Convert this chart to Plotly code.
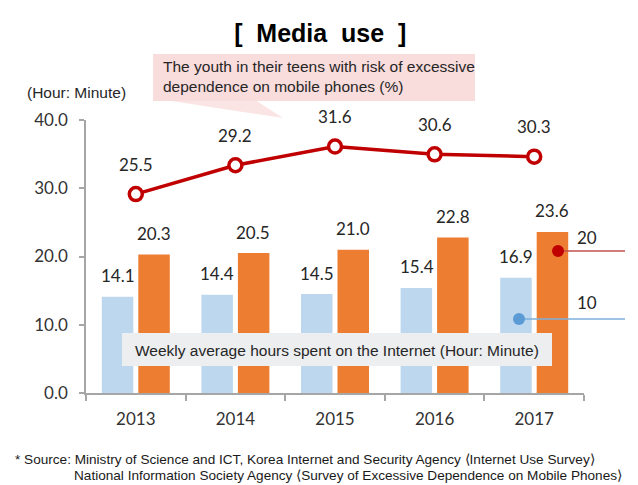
import plotly.graph_objects as go

years = ["2013", "2014", "2015", "2016", "2017"]
internet_a = [14.1, 14.4, 14.5, 15.4, 16.9]
internet_b = [20.3, 20.5, 21.0, 22.8, 23.6]
risk_pct = [25.5, 29.2, 31.6, 30.6, 30.3]
y_ticks = [0, 10, 20, 30, 40]
y_ticklabels = ["0.0", "10.0", "20.0", "30.0", "40.0"]

NUM_FONT = "Lato, Carlito, Calibri, sans-serif"
NARROW = "Liberation Sans Narrow, Arial Narrow, Liberation Sans, sans-serif"

W, H = 638, 485
L, R, T, B = 86, 54, 120, 92
PW, PH = W - L - R, H - T - B


def px(x):
    return (x - L) / PW


def py(y):
    return (H - B - y) / PH


fig = go.Figure()
fig.add_bar(x=years, y=internet_a, marker_color="#BDD7EE", marker_line_width=0, name="10")
fig.add_bar(x=years, y=internet_b, marker_color="#ED7D31", marker_line_width=0, name="20")
fig.add_scatter(x=years, y=risk_pct, yaxis="y2", mode="lines+markers",
                line=dict(color="#C00000", width=3.5),
                marker=dict(size=13, color="white", line=dict(color="#C00000", width=3.5)),
                name="risk")

ann = []
for i, (a, b) in enumerate(zip(internet_a, internet_b)):
    ann.append(dict(x=i, y=a, xref="x", yref="y", text=f"{a:.1f}", showarrow=False,
                    xshift=-18, yshift=21, font=dict(family=NUM_FONT, size=17, color="#262626")))
    ann.append(dict(x=i, y=b, xref="x", yref="y", text=f"{b:.1f}", showarrow=False,
                    xshift=18, yshift=21, font=dict(family=NUM_FONT, size=17, color="#262626")))
for i, r in enumerate(risk_pct):
    ann.append(dict(x=i, y=r, xref="x", yref="y2", text=f"{r:.1f}", showarrow=False,
                    yshift=30, font=dict(family=NUM_FONT, size=17, color="#262626")))

ann += [
    dict(x=px(161), y=py(77), xref="paper", yref="paper", xanchor="left", yanchor="middle",
         align="left", showarrow=False,
         text="The youth in their teens with risk of excessive<br>dependence on mobile phones (%)",
         font=dict(family=NARROW, size=15.5, color="#262626")),
    dict(x=px(128), y=py(93), xref="paper", yref="paper", xanchor="right", yanchor="middle",
         showarrow=False, text="(Hour: Minute)", font=dict(family=NARROW, size=15.5, color="#262626")),
    dict(x=px(337), y=py(350), xref="paper", yref="paper", xanchor="center", yanchor="middle",
         showarrow=False, text="Weekly average hours spent on the Internet (Hour: Minute)",
         font=dict(family=NARROW, size=15.5, color="#262626")),
    dict(x=px(587), y=py(237), xref="paper", yref="paper", xanchor="center", yanchor="middle",
         showarrow=False, text="20", font=dict(family=NUM_FONT, size=17, color="#262626")),
    dict(x=px(587), y=py(302), xref="paper", yref="paper", xanchor="center", yanchor="middle",
         showarrow=False, text="10", font=dict(family=NUM_FONT, size=17, color="#262626")),
    dict(x=px(13), y=py(459), xref="paper", yref="paper", xanchor="left", yanchor="middle",
         showarrow=False,
         text="* Source: Ministry of Science and ICT, Korea Internet and Security Agency ⟨Internet Use Survey⟩",
         font=dict(family=NARROW, size=13.6, color="#1a1a1a")),
    dict(x=px(72), y=py(475), xref="paper", yref="paper", xanchor="left", yanchor="middle",
         showarrow=False,
         text="National Information Society Agency ⟨Survey of Excessive Dependence on Mobile Phones⟩",
         font=dict(family=NARROW, size=13.6, color="#1a1a1a")),
]

shapes = [
    dict(type="path", xref="paper", yref="paper",
         path=f"M {px(165)},{py(100)} L {px(255)},{py(100)} L {px(283)},{py(118)} Z",
         fillcolor="#FBE4E4", line=dict(width=0), layer="above"),
    dict(type="rect", xref="paper", yref="paper", x0=px(153), x1=px(475), y0=py(101), y1=py(54),
         fillcolor="#F9DCDC", line=dict(width=0), layer="above"),
    dict(type="rect", xref="paper", yref="paper", x0=px(122), x1=px(552), y0=py(366), y1=py(333),
         fillcolor="#EDEEF0", line=dict(width=0), layer="above"),
    dict(type="line", xref="paper", yref="paper", x0=px(558), x1=px(625), y0=py(251), y1=py(251),
         line=dict(color="#C0504D", width=1.5), layer="above"),
    dict(type="circle", xref="paper", yref="paper", xsizemode="pixel", ysizemode="pixel",
         xanchor=px(558), yanchor=py(251), x0=-6, x1=6, y0=-6, y1=6,
         fillcolor="#C00000", line=dict(width=0), layer="above"),
    dict(type="line", xref="paper", yref="paper", x0=px(519), x1=px(625), y0=py(319), y1=py(319),
         line=dict(color="#7EB0DC", width=1.5), layer="above"),
    dict(type="circle", xref="paper", yref="paper", xsizemode="pixel", ysizemode="pixel",
         xanchor=px(519), yanchor=py(319), x0=-6, x1=6, y0=-6, y1=6,
         fillcolor="#5B9BD5", line=dict(width=0), layer="above"),
]

fig.update_layout(
    width=W, height=H,
    margin=dict(l=L, r=R, t=T, b=B, pad=0),
    paper_bgcolor="white", plot_bgcolor="white",
    showlegend=False,
    barmode="group", bargap=0.267, bargroupgap=0.137,
    title=dict(text="[  Media  use  ]", x=0.502, xanchor="center", y=1 - 33 / H, yanchor="middle",
               font=dict(family="Liberation Sans, Arial, sans-serif", size=25, color="black",
                         weight="bold")),
    xaxis=dict(type="category", range=[-0.5, 4.5], showline=True, linecolor="#A6A6A6", linewidth=1.5,
               ticks="outside", tickson="boundaries", ticklen=6, tickcolor="#A6A6A6", tickwidth=1.5,
               tickangle=0, ticklabelstandoff=10,
               tickfont=dict(family=NUM_FONT, size=17, color="#333333"), showgrid=False),
    yaxis=dict(range=[0, 40], tickvals=y_ticks, ticktext=y_ticklabels, showline=True,
               linecolor="#A6A6A6", linewidth=1.5, ticks="outside", ticklen=5, tickcolor="#A6A6A6",
               tickwidth=1.5, showgrid=False, zeroline=False, ticklabelstandoff=8,
               tickfont=dict(family=NUM_FONT, size=17, color="#333333")),
    yaxis2=dict(range=[0, 35], overlaying="y", visible=False),
    annotations=ann,
    shapes=shapes,
)

fig.write_html("out.html")
